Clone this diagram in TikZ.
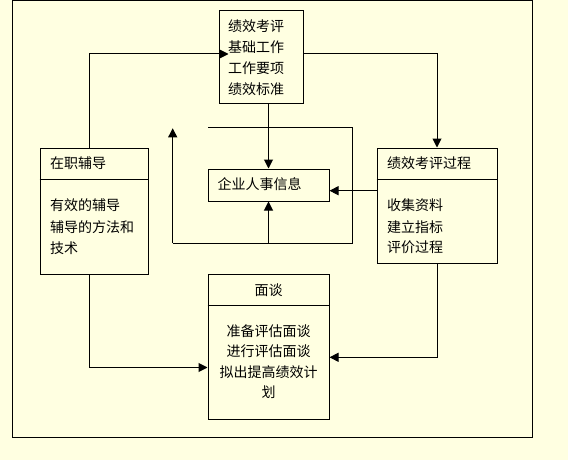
\documentclass[tikz,border=0pt]{standalone}
\usepackage{fontspec}
\newfontfamily\cjk{Noto Sans CJK SC}
\usetikzlibrary{arrows.meta}
\definecolor{bgyellow}{RGB}{255,255,225}
\tikzset{
  box/.style={draw=black, line width=1pt, inner sep=0pt, fill=none},
  txt/.style={inner sep=0pt, font=\cjk\fontsize{14pt}{16pt}\selectfont, text=black},
  conn/.style={draw=black, line width=1pt},
  arr/.style={conn, -{Triangle[width=9pt,length=9pt]}},
}
\begin{document}
\begin{tikzpicture}[x=1pt,y=-1pt]
\useasboundingbox[fill=bgyellow] (0,0) rectangle (568,460);
\draw[line width=1.2pt] (12.3,0.7) rectangle (532.7,437.3);

% boxes
\node[box, minimum width=84pt, minimum height=93pt] (top) at (261,57.5) {};
\node[box, minimum width=108pt, minimum height=126pt] (left) at (94,211) {};
\node[box, minimum width=120pt, minimum height=115pt] (right) at (437,205.5) {};
\node[box, minimum width=121pt, minimum height=32pt] (center) at (268.5,185) {};
\node[box, minimum width=121pt, minimum height=145pt] (bottom) at (268.5,346.5) {};

% separators
\coordinate (ls) at (0,179);
\coordinate (bs) at (0,305);
\draw[conn] (left.west |- ls) -- (left.east |- ls);
\draw[conn] (right.west |- ls) -- (right.east |- ls);
\draw[conn] (bottom.west |- bs) -- (bottom.east |- bs);

% texts
\node[txt, anchor=west] (t1) at (228,26) {绩效考评};
\node[txt, anchor=west] (t2) at (228,47) {基础工作};
\node[txt, anchor=west] (t3) at (228,68) {工作要项};
\node[txt, anchor=west] (t4) at (228,89) {绩效标准};

\node[txt, anchor=west] (l1) at (50,163) {在职辅导};
\node[txt, anchor=west] (l2) at (50,205) {有效的辅导};
\node[txt, anchor=west] (l3) at (50,227) {辅导的方法和};
\node[txt, anchor=west] (l4) at (50,248) {技术};

\node[txt, anchor=west] (r1) at (387,163) {绩效考评过程};
\node[txt, anchor=west] (r2) at (387,205) {收集资料};
\node[txt, anchor=west] (r3) at (387,227) {建立指标};
\node[txt, anchor=west] (r4) at (387,247) {评价过程};

\node[txt, anchor=west] (c1) at (217.5,184) {企业人事信息};

\node[txt] (b1) at (268.5,290) {面谈};
\node[txt] (b2) at (268.5,331) {准备评估面谈};
\node[txt] (b3) at (268.5,351.5) {进行评估面谈};
\node[txt] (b4) at (268.5,372) {拟出提高绩效计};
\node[txt] (b5) at (268.5,392.5) {划};

% connectors
\coordinate (a1) at (228.5,54);
\coordinate (lx) at (89,0);
\draw[arr] (left.north -| lx) |- (a1);
\draw[arr] (top.east |- a1) -| (right.north);
\draw[arr] (center.north |- top.south) -- (center.north);
\coordinate (c2) at (0,190.7);
\draw[arr] (right.west |- c2) -- (center.east |- c2);

\coordinate (p1) at (208,127.3);
\coordinate (p2) at (352.7,127.3);
\coordinate (p3) at (352.7,243.3);
\coordinate (p4) at (172.7,243.3);
\coordinate (p5) at (172.7,128.3);
\draw[conn] (p1) -- (p2) -- (p3) -- (p4);
\draw[arr] (p4) -- (p5);
\draw[arr] (center.south |- p4) -- (center.south);

\coordinate (d1) at (0,367.5);
\draw[arr] (left.south -| lx) |- (bottom.west |- d1);
\coordinate (d2) at (0,357.3);
\draw[arr] (right.south) |- (bottom.east |- d2);
\end{tikzpicture}
\end{document}
